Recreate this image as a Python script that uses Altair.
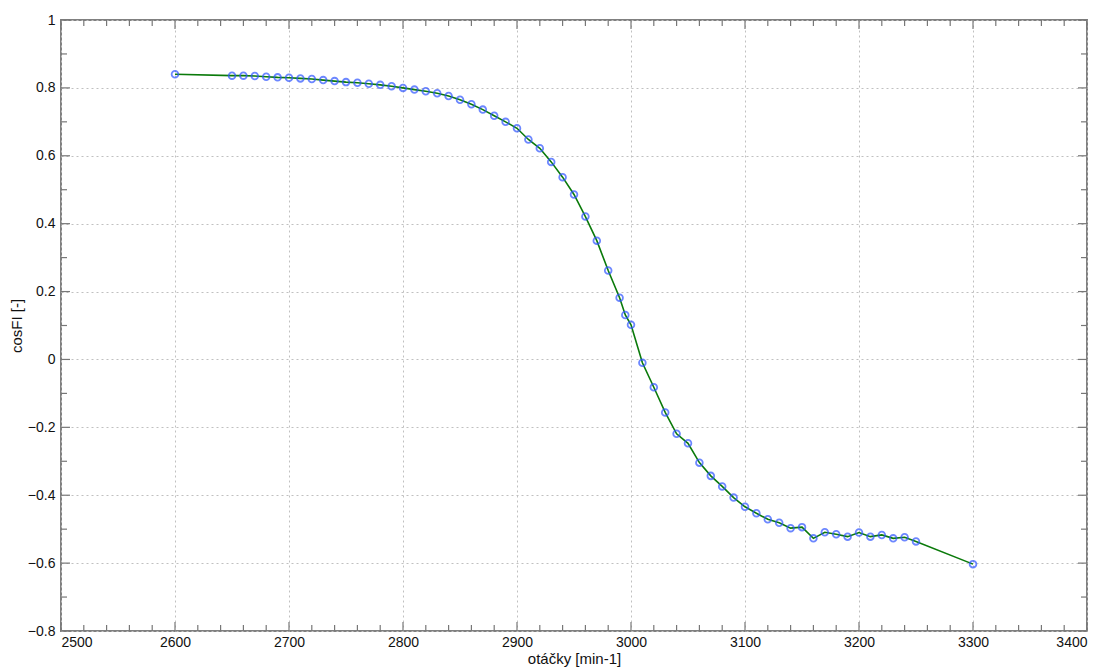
import altair as alt
import pandas as pd

rpm = [2600, 2650, 2660, 2670, 2680, 2690, 2700, 2710, 2720, 2730, 2740,
       2750, 2760, 2770, 2780, 2790, 2800, 2810, 2820, 2830, 2840, 2850,
       2860, 2870, 2880, 2890, 2900, 2910, 2920, 2930, 2940, 2950, 2960,
       2970, 2980, 2990, 2995, 3000, 3010, 3020, 3030, 3040, 3050, 3060,
       3070, 3080, 3090, 3100, 3110, 3120, 3130, 3140, 3150, 3160, 3170,
       3180, 3190, 3200, 3210, 3220, 3230, 3240, 3250, 3300]
cosfi = [0.840, 0.836, 0.836, 0.835, 0.833, 0.831, 0.830, 0.828, 0.826, 0.823, 0.820,
         0.817, 0.815, 0.812, 0.809, 0.805, 0.800, 0.795, 0.790, 0.784, 0.776, 0.765,
         0.752, 0.736, 0.718, 0.700, 0.681, 0.648, 0.622, 0.582, 0.537, 0.486, 0.421,
         0.350, 0.262, 0.182, 0.131, 0.102, -0.010, -0.082, -0.156, -0.219, -0.247, -0.304,
         -0.343, -0.374, -0.407, -0.434, -0.453, -0.471, -0.481, -0.497, -0.494, -0.527, -0.509,
         -0.515, -0.522, -0.510, -0.522, -0.517, -0.527, -0.524, -0.536, -0.603]

x_major = [2500, 2600, 2700, 2800, 2900, 3000, 3100, 3200, 3300, 3400]
x_minor = [v for v in range(2500, 3401, 20) if v % 100 != 0]
y_major = [-0.8, -0.6, -0.4, -0.2, 0.0, 0.2, 0.4, 0.6, 0.8, 1.0]
y_minor = [-0.7, -0.5, -0.3, -0.1, 0.1, 0.3, 0.5, 0.7, 0.9]

W, H = 1026, 611
FONT = "Liberation Sans"

df = pd.DataFrame({"rpm": rpm, "cosfi": cosfi})
xs = alt.Scale(domain=[2500, 3400], nice=False, zero=False)
ys = alt.Scale(domain=[-0.8, 1.0], nice=False, zero=False)

xaxis = alt.Axis(values=x_major, title="otáčky [min-1]", format="d",
                 grid=True, gridDash=[2, 3], gridColor="#c0c0c0", gridWidth=1,
                 ticks=False, domain=False, labelPadding=4,
                 labelFontSize=14, titleFontSize=15, titlePadding=2, titleFontWeight="normal",
                 labelColor="#111111", titleColor="#111111", labelFont=FONT, titleFont=FONT)
yaxis = alt.Axis(values=y_major, title="cosFI [-]", format=".1~f",
                 grid=True, gridDash=[2, 3], gridColor="#c0c0c0", gridWidth=1,
                 ticks=False, domain=False, labelPadding=6,
                 labelFontSize=14, titleFontSize=15, titlePadding=3, titleFontWeight="normal",
                 labelColor="#111111", titleColor="#111111", labelFont=FONT, titleFont=FONT)

X = alt.X("rpm:Q", scale=xs, axis=xaxis)
Y = alt.Y("cosfi:Q", scale=ys, axis=yaxis)

line = alt.Chart(df).mark_line(color="#0a7a0a", strokeWidth=1.6).encode(x=X, y=Y)
pts = alt.Chart(df).mark_point(shape="circle", filled=False, color="#2f55ff",
                               size=45, strokeWidth=1.8).encode(x=X, y=Y)

tick_color = "#777777"

def xticks(vals, length):
    d = pd.DataFrame({"rpm": vals})
    bottom = alt.Chart(d).mark_rule(color=tick_color, strokeWidth=1.2).encode(
        x=X, y=alt.value(H), y2=alt.value(H - length))
    top = alt.Chart(d).mark_rule(color=tick_color, strokeWidth=1.2).encode(
        x=X, y=alt.value(0), y2=alt.value(length))
    return [bottom, top]

def yticks(vals, length):
    d = pd.DataFrame({"cosfi": vals})
    left = alt.Chart(d).mark_rule(color=tick_color, strokeWidth=1.2).encode(
        y=Y, x=alt.value(0), x2=alt.value(length))
    right = alt.Chart(d).mark_rule(color=tick_color, strokeWidth=1.2).encode(
        y=Y, x=alt.value(W), x2=alt.value(W - length))
    return [left, right]

layers = [line] + xticks(x_major, 9) + xticks(x_minor, 6) + yticks(y_major, 9) + yticks(y_minor, 6) + [pts]

chart = alt.layer(*layers).properties(
    width=W, height=H,
    autosize=alt.AutoSizeParams(type="none"),
    padding={"left": 61, "top": 20, "right": 24, "bottom": 39},
    background="white",
).configure_view(stroke="#808080", strokeWidth=2)

chart.save("out.html", embed_options={"renderer": "svg", "actions": False})
